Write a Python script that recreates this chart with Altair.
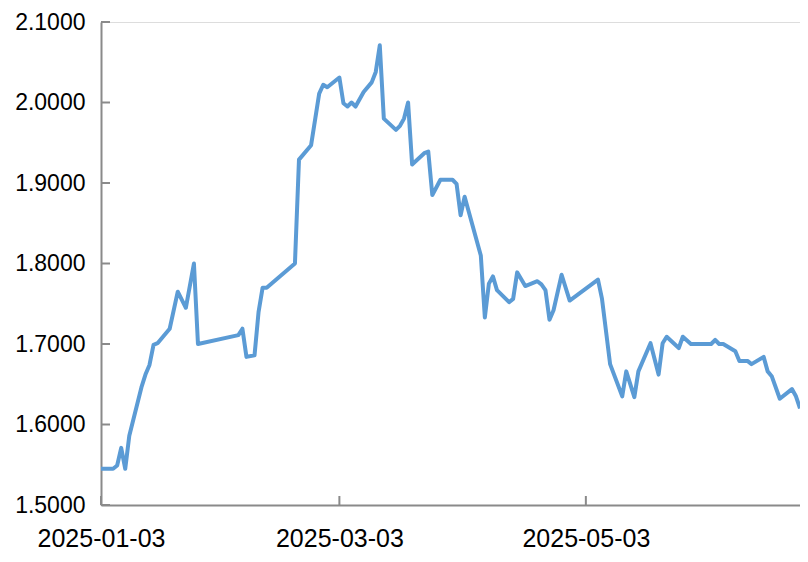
import altair as alt
import pandas as pd

dates = [
    "2025-01-03", "2025-01-06", "2025-01-07", "2025-01-08", "2025-01-09", "2025-01-10",
    "2025-01-13", "2025-01-14", "2025-01-15", "2025-01-16", "2025-01-17", "2025-01-20",
    "2025-01-22", "2025-01-24", "2025-01-26", "2025-01-27", "2025-02-06", "2025-02-07",
    "2025-02-08", "2025-02-10", "2025-02-11", "2025-02-12", "2025-02-13", "2025-02-20",
    "2025-02-21", "2025-02-24", "2025-02-26", "2025-02-27", "2025-02-28", "2025-03-03",
    "2025-03-04", "2025-03-05", "2025-03-06", "2025-03-07", "2025-03-09", "2025-03-11",
    "2025-03-12", "2025-03-13", "2025-03-14", "2025-03-17", "2025-03-18", "2025-03-19",
    "2025-03-20", "2025-03-21", "2025-03-24", "2025-03-25", "2025-03-26", "2025-03-28",
    "2025-03-31", "2025-04-01", "2025-04-02", "2025-04-03", "2025-04-07", "2025-04-08",
    "2025-04-09", "2025-04-10", "2025-04-11", "2025-04-14", "2025-04-15", "2025-04-16",
    "2025-04-18", "2025-04-21", "2025-04-22", "2025-04-23", "2025-04-24", "2025-04-25",
    "2025-04-27", "2025-04-29", "2025-05-06", "2025-05-07", "2025-05-09", "2025-05-12",
    "2025-05-13", "2025-05-15", "2025-05-16", "2025-05-19", "2025-05-21", "2025-05-22",
    "2025-05-23", "2025-05-26", "2025-05-27", "2025-05-29", "2025-06-03", "2025-06-04",
    "2025-06-05", "2025-06-06", "2025-06-09", "2025-06-10", "2025-06-12", "2025-06-13",
    "2025-06-16", "2025-06-17", "2025-06-18", "2025-06-20", "2025-06-23", "2025-06-24",
    "2025-06-25",
]
values = [
    1.545, 1.545, 1.549, 1.571, 1.545, 1.586,
    1.646, 1.662, 1.674, 1.699, 1.701, 1.719,
    1.765, 1.745, 1.800, 1.700, 1.711, 1.719,
    1.684, 1.686, 1.740, 1.770, 1.770, 1.800,
    1.929, 1.947, 2.011, 2.022, 2.019, 2.031,
    1.999, 1.995, 2.000, 1.995, 2.013, 2.025,
    2.038, 2.071, 1.980, 1.966, 1.971, 1.980,
    2.000, 1.923, 1.937, 1.939, 1.885, 1.904,
    1.904, 1.899, 1.860, 1.883, 1.810, 1.733,
    1.775, 1.784, 1.767, 1.752, 1.756, 1.789,
    1.772, 1.778, 1.774, 1.767, 1.730, 1.742,
    1.786, 1.754, 1.780, 1.756, 1.675, 1.635,
    1.666, 1.634, 1.666, 1.701, 1.662, 1.701,
    1.709, 1.695, 1.709, 1.700, 1.700, 1.705,
    1.700, 1.700, 1.691, 1.679, 1.679, 1.675,
    1.684, 1.666, 1.660, 1.632, 1.644, 1.635,
    1.620,
]

y_ticks = [1.5, 1.6, 1.7, 1.8, 1.9, 2.0, 2.1]
x_ticks = ["2025-01-03", "2025-03-03", "2025-05-03"]

W, H = 699, 483
AXIS_GRAY = "#8a8a8a"
LINE_BLUE = "#5b9bd5"
FONT = "Liberation Sans"

df = pd.DataFrame({"date": pd.to_datetime(dates), "value": values})
ytick_df = pd.DataFrame({"value": y_ticks})
xtick_df = pd.DataFrame({"date": pd.to_datetime(x_ticks)})

def dt(s):
    y, m, d = (int(p) for p in s.split("-"))
    return alt.DateTime(year=y, month=m, date=d)

x_scale = alt.Scale(domain=[dt(dates[0]), dt(dates[-1])], nice=False)
y_scale = alt.Scale(domain=[y_ticks[0], y_ticks[-1]], nice=False, zero=False)

x_axis = alt.Axis(values=[dt(s) for s in x_ticks], format="%Y-%m-%d",
                  tickSize=0, labelFontSize=25, labelPadding=21,
                  labelFont=FONT, labelColor="#000000", domainColor=AXIS_GRAY,
                  domainWidth=2, grid=False, labelFlush=False)
y_axis = alt.Axis(values=y_ticks, format=".4f", tickSize=0, labelFontSize=23,
                  labelPadding=16, labelFont=FONT, labelColor="#000000",
                  domainColor=AXIS_GRAY, domainWidth=2, grid=False)

line = alt.Chart(df).mark_line(color=LINE_BLUE, strokeWidth=4, strokeJoin="round").encode(
    x=alt.X("date:T", scale=x_scale, title=None, axis=x_axis),
    y=alt.Y("value:Q", scale=y_scale, title=None, axis=y_axis),
)

yticks = alt.Chart(ytick_df).mark_rule(color=AXIS_GRAY, strokeWidth=2).encode(
    y=alt.Y("value:Q", scale=y_scale, title=None, axis=y_axis),
    x=alt.value(0),
    x2=alt.value(9),
)

xticks = alt.Chart(xtick_df).mark_rule(color=AXIS_GRAY, strokeWidth=2).encode(
    x=alt.X("date:T", scale=x_scale, title=None, axis=x_axis),
    y=alt.value(H - 9),
    y2=alt.value(H),
)

chart = alt.layer(line, yticks, xticks).properties(
    width=W,
    height=H,
    autosize=alt.AutoSizeParams(type="none"),
    padding={"left": 93, "top": 14, "right": 0, "bottom": 46},
).configure_view(strokeWidth=0).configure(background="white")

chart.save("out.html", embed_options={"renderer": "svg", "actions": False})
